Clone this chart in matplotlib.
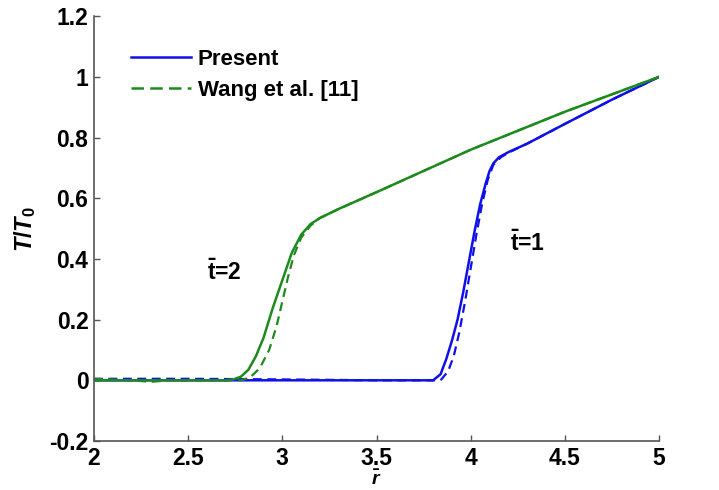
import numpy as np
import matplotlib
matplotlib.use("Agg")
import matplotlib.pyplot as plt
from matplotlib.lines import Line2D

plt.rcParams['font.family'] = ['Liberation Sans', 'DejaVu Sans']
plt.rcParams['mathtext.fontset'] = 'custom'
plt.rcParams['mathtext.rm'] = 'Liberation Sans:bold'
plt.rcParams['mathtext.bf'] = 'Liberation Sans:bold'
plt.rcParams['mathtext.it'] = 'Liberation Sans:bold:italic'

# t=1, present (blue solid)
x_p1 = [2.0, 3.0, 3.5, 3.80, 3.84, 3.87, 3.90, 3.93, 3.96, 3.99, 4.02, 4.05, 4.08, 4.10, 4.12, 4.15, 4.20, 4.30, 4.50, 4.75, 5.00]
y_p1 = [0, 0, 0, 0, 0.02, 0.07, 0.13, 0.20, 0.29, 0.39, 0.49, 0.58, 0.65, 0.69, 0.715, 0.735, 0.752, 0.78, 0.845, 0.925, 1.0]
# t=1, Wang et al. (blue dashed)
x_w1 = [2.0, 2.5, 3.0, 3.5, 3.84, 3.88, 3.91, 3.94, 3.97, 4.00, 4.03, 4.06, 4.09, 4.12, 4.16, 4.20, 4.30, 4.50, 4.75, 5.00]
y_w1 = [0.005, 0.005, 0.003, 0, 0, 0.03, 0.08, 0.16, 0.26, 0.37, 0.48, 0.58, 0.66, 0.71, 0.735, 0.75, 0.78, 0.845, 0.925, 1.0]
# t=2, present (green solid)
x_p2 = [2.0, 2.5, 2.70, 2.74, 2.78, 2.82, 2.86, 2.90, 2.95, 3.00, 3.05, 3.10, 3.15, 3.20, 3.30, 3.50, 4.00, 4.50, 5.00]
y_p2 = [0, 0, 0, 0.003, 0.012, 0.035, 0.08, 0.14, 0.24, 0.33, 0.42, 0.48, 0.515, 0.535, 0.565, 0.62, 0.76, 0.885, 1.0]
# t=2, Wang et al. (green dashed)
x_w2 = [2.0, 2.2, 2.3, 2.4, 2.6, 2.78, 2.83, 2.88, 2.93, 2.97, 3.00, 3.03, 3.06, 3.10, 3.15, 3.20, 3.30, 3.50, 4.00, 4.50, 5.00]
y_w2 = [0.005, 0.0, -0.005, 0.0, 0, 0, 0.01, 0.04, 0.10, 0.18, 0.26, 0.34, 0.41, 0.47, 0.51, 0.535, 0.565, 0.62, 0.76, 0.885, 1.0]

xticks = [2, 2.5, 3, 3.5, 4, 4.5, 5]
yticks = [-0.2, 0, 0.2, 0.4, 0.6, 0.8, 1, 1.2]

blue = '#1010e8'
green = '#1e8a1e'

fig = plt.figure(figsize=(7.19, 4.90), dpi=100)
ax = fig.add_axes([0.1307, 0.1, 0.786, 0.867])

ax.plot(x_p1, y_p1, color=blue, lw=1.8)
ax.plot(x_w1, y_w1, color=blue, lw=1.6, ls=(0, (4, 2.5)))
ax.plot(x_p2, y_p2, color=green, lw=1.8)
ax.plot(x_w2, y_w2, color=green, lw=1.6, ls=(0, (4, 2.5)))

ax.set_xlim(2, 5)
ax.set_ylim(-0.2, 1.2)
ax.set_xticks(xticks)
ax.set_yticks(yticks)
ax.set_xticklabels(['%g' % v for v in xticks])
ax.set_yticklabels(['%g' % v for v in yticks])

for s in ['top', 'right']:
    ax.spines[s].set_visible(False)
for s in ['left', 'bottom']:
    ax.spines[s].set_color('#555555')
    ax.spines[s].set_linewidth(1.2)
ax.tick_params(direction='in', length=4, width=1, color='#555555',
               labelsize=16.5, pad=4)
for lab in ax.get_xticklabels() + ax.get_yticklabels():
    lab.set_fontweight('bold')

ax.set_ylabel(r'$T/T_0$', fontsize=17, labelpad=8)
# x label sits at the very bottom edge, as in the source figure
fig.text(0.5228, 0.002, r'$\bar{r}$', fontsize=14, ha='center', va='bottom')

ax.text(2.6, 0.356, r'$\bar{\mathrm{t}}$=2', fontsize=16.5, fontweight='bold',
        va='center', ha='left')
ax.text(4.21, 0.45, r'$\bar{\mathrm{t}}$=1', fontsize=16.5, fontweight='bold',
        va='center', ha='left')

h_p = Line2D([], [], color=blue, lw=1.8)
h_w = Line2D([], [], color=green, lw=1.8, ls=(0, (5, 2.5)))
leg = ax.legend(handles=[h_p, h_w], labels=['Present', 'Wang et al. [11]'],
                loc='upper left', bbox_to_anchor=(0.03, 0.97),
                frameon=False, handlelength=2.7, handletextpad=0.3,
                labelspacing=0.45, prop={'size': 16, 'weight': 'bold'})

fig.savefig('out.png', dpi=100)
